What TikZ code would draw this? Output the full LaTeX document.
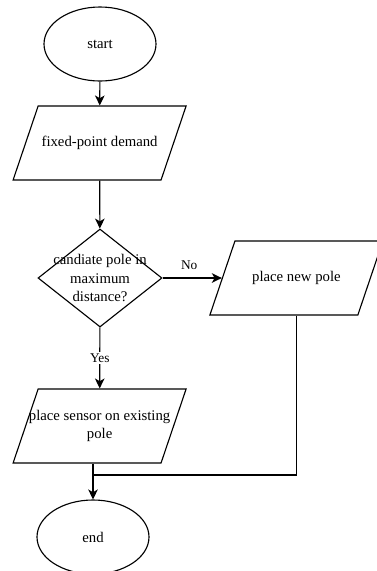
\documentclass[tikz,border=0pt]{standalone}
\usepackage{fontspec}
\setmainfont{Liberation Serif}
\usetikzlibrary{arrows.meta,positioning,shapes.geometric}

\begin{document}
\begin{tikzpicture}[
  term/.style={draw, ellipse, line width=0.8pt, inner sep=0pt,
               minimum width=2.8cm, minimum height=1.85cm,
               font=\fontsize{10.5}{13}\selectfont},
  io/.style={draw, trapezium, trapezium left angle=71.3,
             trapezium right angle=108.7, trapezium stretches body=true,
             line width=0.8pt, inner xsep=0pt, inner ysep=0.925cm,
             minimum width=4.325cm},
  decision/.style={draw, diamond, line width=0.8pt, inner sep=0pt,
                   minimum width=3.1cm, minimum height=2.45cm},
  txt/.style={align=center, font=\fontsize{10.5}{13}\selectfont},
  lbl/.style={font=\fontsize{9.5}{11}\selectfont, inner sep=1pt},
  arr/.style={-{Stealth[length=2.5mm, width=2.4mm, inset=0.7mm]},
              line width=0.8pt}
]
\useasboundingbox (0,0) rectangle (9.4,-14.275);
\node[term] (start) at (2.5,-1.1) {start};
\node[io, label={[txt]center:fixed-point demand}]
  (demand) at (2.49,-3.575) {};
\node[decision, label={[txt]center:{candiate pole in\\maximum\\distance?}}]
  (dec) at (2.5,-6.95) {};
\node[io, label={[txt]center:place new pole}]
  (newpole) at (7.41,-6.95) {};
\node[io, label={[txt]center:{place sensor on existing\\pole}}]
  (sensor) at (2.49,-10.65) {};
\node[term] (stop) at (2.325,-13.425) {end};
\coordinate (join) at (2.325,-11.875);

\draw[arr] (start) -- (demand);
\draw[arr] (demand) -- (dec);
\draw[arr] (dec) -- node[lbl, pos=0.45, above=0.15cm] {No} (newpole);
\draw[arr] (dec) -- node[lbl, fill=white] {Yes} (sensor);
\draw[line width=0.8pt] (newpole) |- (join);
\draw[arr] (sensor.south -| stop) -- (stop);
\end{tikzpicture}
\end{document}
